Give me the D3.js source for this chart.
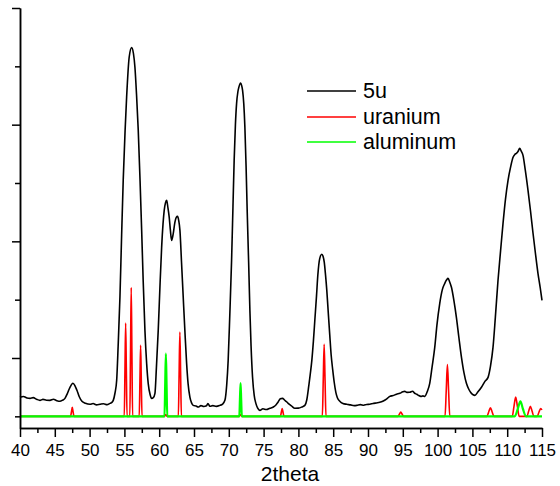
<!DOCTYPE html>
<html>
<head>
<meta charset="utf-8">
<script src="https://cdn.jsdelivr.net/npm/d3@7"></script>
<style>
  html, body { margin: 0; padding: 0; background: #fff; }
  svg { display: block; }
  text { font-family: "Liberation Sans", Arial, sans-serif; fill: #000; }
</style>
</head>
<body>
<svg id="chart" width="560" height="486"></svg>
<script>
// ---- data ----
const thetaBlack = [40.00,40.5,41.0,41.44,41.9,42.4,42.87,43.3,43.8,44.31,44.8,45.3,45.74,46.1,46.46,46.8,47.18,47.61,47.9,48.18,48.5,48.9,49.4,50.05,50.5,51.0,51.49,52.0,52.5,52.92,53.2,53.4,53.65,53.89,54.1,54.36,54.6,54.83,55.1,55.32,55.69,56.04,56.3,56.51,56.75,56.99,57.25,57.48,57.7,57.95,58.2,58.42,58.7,58.91,59.15,59.39,59.6,59.86,60.1,60.35,60.55,60.72,60.9,61.07,61.25,61.44,61.6,61.78,62.0,62.26,62.45,62.64,62.8,62.98,63.2,63.45,63.7,63.94,64.15,64.41,64.65,64.89,65.3,65.6,66.0,66.4,66.8,67.0,67.28,67.7,68.2,68.72,69.1,69.44,69.7,69.91,70.15,70.40,70.6,70.77,70.95,71.12,71.3,71.45,71.69,71.85,71.98,72.15,72.31,72.48,72.64,72.85,73.03,73.2,73.41,73.65,73.89,74.15,74.46,74.9,75.4,75.90,76.4,76.8,77.09,77.4,77.72,78.0,78.3,78.53,79.0,79.49,80.0,80.5,80.93,81.2,81.50,81.7,81.93,82.15,82.36,82.6,82.79,83.07,83.36,83.55,83.72,83.9,84.08,84.3,84.51,84.7,84.94,85.15,85.38,85.6,85.95,86.4,86.96,87.5,88.0,88.39,88.9,89.4,89.8,90.26,90.7,91.2,91.69,92.2,92.7,93.13,93.6,94.1,94.57,95.0,95.28,95.6,96.0,96.4,96.7,97.01,97.3,97.58,97.9,98.16,98.5,98.87,99.2,99.59,99.9,100.31,100.7,101.03,101.3,101.50,101.75,101.99,102.35,102.70,103.05,103.43,103.8,104.14,104.5,104.86,105.1,105.34,105.8,106.30,106.8,107.25,107.6,107.96,108.3,108.68,109.05,109.40,109.75,110.12,110.5,110.84,111.1,111.32,111.55,111.80,112.0,112.27,112.6,112.99,113.35,113.71,114.05,114.42,114.75,115.0];
const int5u = [163,170,158,154,160,146,137,145,138,137,146,134,129,138,154,195,249,283,262,223,170,129,112,103,110,98,103,108,100,111,120,137,200,309,600,1023,1550,2023,2450,2737,3080,3160,3110,2994,2750,2451,2020,1594,1160,737,450,283,185,154,160,197,420,737,1100,1448,1650,1766,1830,1851,1790,1706,1600,1508,1560,1665,1705,1714,1680,1594,1330,1023,720,454,280,165,115,94,88,80,92,84,90,110,86,92,85,94,105,137,270,480,880,1337,1800,2194,2500,2683,2780,2822,2857,2835,2794,2680,2480,2150,1766,1320,909,600,337,180,111,70,51,65,58,69,80,100,123,150,154,140,125,111,90,69,70,80,94,140,266,360,480,640,823,1030,1209,1354,1389,1370,1320,1210,1080,880,694,530,394,290,206,160,129,110,103,98,92,94,100,95,102,103,110,115,120,132,150,171,178,190,197,210,214,205,206,215,198,189,178,171,175,171,210,283,420,591,780,969,1090,1140,1170,1183,1150,1106,990,849,680,506,370,283,230,197,185,180,210,249,300,334,430,591,850,1166,1420,1654,1860,2023,2140,2220,2245,2254,2270,2297,2275,2237,2110,1937,1760,1569,1400,1226,1100,994];

const thetaU = [40.0,47.27,47.39,47.51,47.63,47.75,54.98,55.08,55.18,55.28,55.38,55.78,55.88,55.98,56.08,56.18,57.13,57.23,57.33,57.43,57.53,60.75,60.85,60.95,61.05,61.15,62.75,62.86,62.97,63.08,63.19,71.5,71.6,71.7,71.8,71.9,77.41,77.54,77.67,77.80,77.93,83.44,83.57,83.70,83.83,83.96,94.31,94.51,94.71,94.91,95.11,101.07,101.24,101.41,101.58,101.75,107.09,107.34,107.59,107.84,108.09,110.72,110.97,111.22,111.47,111.72,112.83,113.08,113.33,113.58,113.83,114.31,114.56,114.81,115.0];
const intU = [0,0,38,77,38,0,0,400,800,400,0,0,550,1103,550,0,0,305,609,305,0,0,8,15,8,0,0,360,723,360,0,0,8,15,8,0,0,33,66,33,0,0,310,617,310,0,0,18,37,18,0,0,220,443,220,0,0,37,74,37,0,0,83,166,83,0,0,43,86,43,0,0,35,66,55];

const thetaAl = [40.0,60.76,60.86,60.96,61.06,61.16,71.51,71.60,71.69,71.78,71.87,111.1,111.5,111.9,112.25,112.7,115.0];
const intAl = [0,0,270,537,270,0,0,143,285,143,0,0,60,128,65,0,0];

const xTicksMajor = [40,45,50,55,60,65,70,75,80,85,90,95,100,105,110,115];
const xTicksMinor = [42.5,47.5,52.5,57.5,62.5,67.5,72.5,77.5,82.5,87.5,92.5,97.5,102.5,107.5,112.5];
const yTicksMajor = [500,1500,2500,3500];
const yTicksMinor = [0,1000,2000,3000];

const seriesNames = ["5u","uranium","aluminum"];
const seriesColors = ["#000000","#ff0000","#00ff00"];
const xLabel = "2theta";

// ---- chart ----
const svg = d3.select("#chart");
const x = d3.scaleLinear().domain([40,115]).range([20,542]);
const y = d3.scaleLinear().domain([-100,3500]).range([428,8]);

const line = d3.line().x(d => x(d[0])).y(d => y(d[1])).curve(d3.curveMonotoneX);

const series = [
  d3.zip(thetaBlack, int5u),
  d3.zip(thetaU, intU),
  d3.zip(thetaAl, intAl)
];
const widths = [1.6, 1.6, 2.2];

series.forEach((s, i) => {
  svg.append("path")
    .datum(s)
    .attr("fill", "none")
    .attr("stroke", seriesColors[i])
    .attr("stroke-width", widths[i])
    .attr("stroke-linejoin", "round")
    .attr("d", line);
});

// x axis
const gx = svg.append("g").attr("transform", "translate(0,428)");
gx.call(d3.axisBottom(x).tickValues(xTicksMinor).tickFormat("").tickSizeInner(5).tickSizeOuter(0));
gx.append("g").call(d3.axisBottom(x).tickValues(xTicksMajor).tickFormat(d3.format("d")).tickSizeInner(9).tickSizeOuter(0).tickPadding(7));
gx.selectAll("path.domain, line").attr("stroke", "#000").attr("stroke-width", 1.5);
gx.selectAll("text").attr("font-size", 17).attr("font-family", "'Liberation Sans', Arial, sans-serif").attr("fill", "#000");

// y axis
const gy = svg.append("g").attr("transform", "translate(20,0)");
gy.call(d3.axisLeft(y).tickValues(yTicksMinor).tickFormat("").tickSizeInner(5).tickSizeOuter(0));
gy.append("g").call(d3.axisLeft(y).tickValues(yTicksMajor).tickFormat("").tickSizeInner(8).tickSizeOuter(0));
gy.selectAll("path.domain, line").attr("stroke", "#000").attr("stroke-width", 1.5);

// x label
svg.append("text").attr("x", 290).attr("y", 481).attr("text-anchor", "middle")
  .attr("font-size", 21).text(xLabel);

// legend
const legendY = [91, 117, 142];
seriesNames.forEach((n, i) => {
  svg.append("line").attr("x1", 307).attr("x2", 356)
    .attr("y1", legendY[i]).attr("y2", legendY[i])
    .attr("stroke", seriesColors[i]).attr("stroke-width", 1.5);
  svg.append("text").attr("x", 363).attr("y", legendY[i] + 7)
    .attr("font-size", 21.5).text(n);
});
</script>
</body>
</html>
